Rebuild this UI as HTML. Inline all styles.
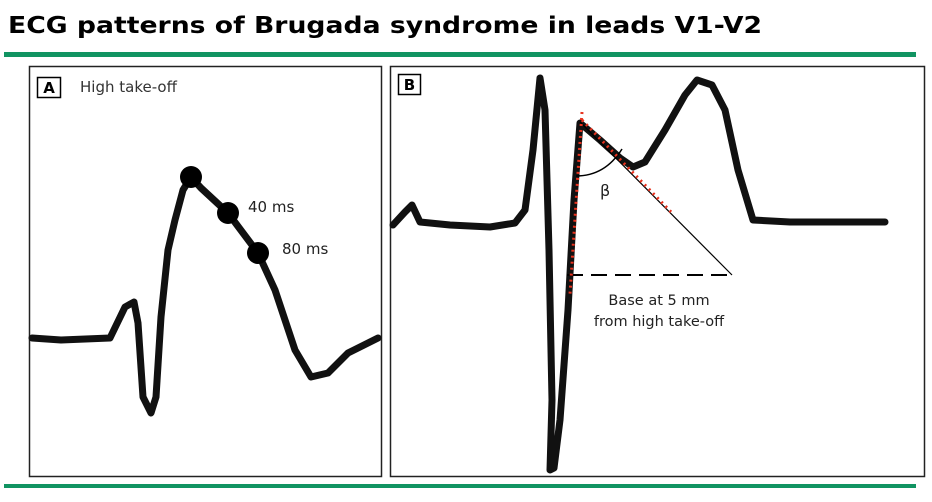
<!DOCTYPE html>
<html><head><meta charset="utf-8"><style>
html,body{margin:0;padding:0;background:#fff;width:932px;height:502px;overflow:hidden}
svg{display:block}
</style></head><body>
<svg width="932" height="502" viewBox="0 0 932 502">
<text x="8" y="33" font-family="'DejaVu Sans',Verdana,sans-serif" font-weight="bold" font-size="23" fill="#000" textLength="754" lengthAdjust="spacingAndGlyphs">ECG patterns of Brugada syndrome in leads V1-V2</text>
<rect x="4" y="52" width="912" height="5" fill="#119462"/>
<rect x="4" y="484" width="912" height="4" fill="#119462"/>

<g>
<rect x="29.5" y="66.5" width="352" height="410" fill="none" stroke="#222" stroke-width="1.5"/>
<rect x="37.5" y="77.5" width="23" height="20" fill="none" stroke="#000" stroke-width="1.5"/>
<text x="49" y="93" text-anchor="middle" font-family="'DejaVu Sans',sans-serif" font-weight="bold" font-size="15">A</text>
<text x="80" y="92" font-family="'DejaVu Sans',sans-serif" font-size="15" fill="#333">High take-off</text>
<path id="traceA" fill="none" stroke="#111" stroke-width="7" stroke-linejoin="round" stroke-linecap="round"/>
<g id="dotsA"></g>
<text x="248" y="212" font-family="'DejaVu Sans',sans-serif" font-size="15" fill="#222">40 ms</text>
<text x="282" y="254" font-family="'DejaVu Sans',sans-serif" font-size="15" fill="#222">80 ms</text>
</g>

<g>
<rect x="390.5" y="66.5" width="534" height="410" fill="none" stroke="#222" stroke-width="1.5"/>
<rect x="398.5" y="74.5" width="22" height="20" fill="none" stroke="#000" stroke-width="1.5"/>
<text x="409.5" y="90" text-anchor="middle" font-family="'DejaVu Sans',sans-serif" font-weight="bold" font-size="15">B</text>
<path id="traceB" fill="none" stroke="#111" stroke-width="7" stroke-linejoin="round" stroke-linecap="round"/>
<line x1="580" y1="122" x2="732" y2="275" stroke="#000" stroke-width="1.2"/>
<line x1="567" y1="275" x2="732" y2="275" stroke="#000" stroke-width="2" stroke-dasharray="16,8"/>
<path d="M576,176 Q605,176 622,149" fill="none" stroke="#000" stroke-width="1.5"/>
<text x="600" y="196" font-family="'DejaVu Sans',sans-serif" font-size="16" fill="#222">β</text>
<line x1="582" y1="112" x2="570" y2="294" stroke="#e8321e" stroke-width="3" stroke-dasharray="2,4"/>
<line x1="582" y1="120" x2="673" y2="214" stroke="#e8321e" stroke-width="3" stroke-dasharray="2,4"/>
<text x="659" y="305" text-anchor="middle" font-family="'DejaVu Sans',sans-serif" font-size="14.5" fill="#222">Base at 5 mm</text>
<text x="659" y="326" text-anchor="middle" font-family="'DejaVu Sans',sans-serif" font-size="14.5" fill="#222">from high take-off</text>
</g>
</svg>
<script>
const traceAX=[32,61,110,125,134,138,143,151,156,161,168,175,183,191,201,228,258,275,295,311,328,348,378];
const traceAY=[338,340,338,307,302,323,397,413,397,317,250,220,190,177,188,213,253,290,350,377,373,353,338];
const dotAX=[191,228,258];
const dotAY=[177,213,253];
const traceBX=[393,405,412,420,450,490,515,525,533,540,545,549,552,550,554,560,568,574,580,600,620,633,645,665,685,697,712,725,738,753,790,840,885];
const traceBY=[225,212,205,222,225,227,223,210,150,78,110,250,400,470,468,420,310,200,123,140,158,167,162,130,95,80,85,110,170,220,222,222,222];
function pathFrom(xs,ys){return xs.map((x,i)=>(i?'L':'M')+x+','+ys[i]).join(' ');}
document.getElementById('traceA').setAttribute('d',pathFrom(traceAX,traceAY));
document.getElementById('traceB').setAttribute('d',pathFrom(traceBX,traceBY));
const g=document.getElementById('dotsA');
dotAX.forEach((x,i)=>{
  const c=document.createElementNS('http://www.w3.org/2000/svg','circle');
  c.setAttribute('cx',x);c.setAttribute('cy',dotAY[i]);c.setAttribute('r',11);c.setAttribute('fill','#000');
  
  
  g.appendChild(c);
});
</script>
</body></html>
